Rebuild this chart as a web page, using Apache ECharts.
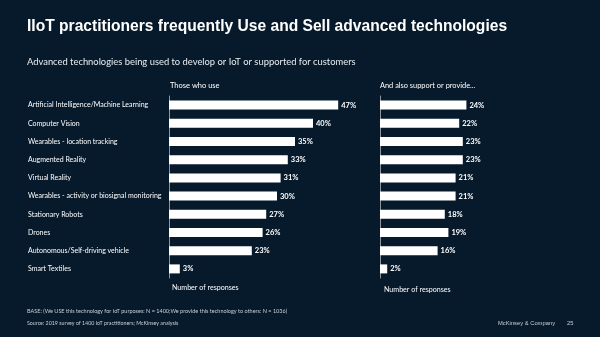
<!DOCTYPE html>
<html>
<head>
<meta charset="utf-8">
<script src="https://cdn.jsdelivr.net/npm/echarts@6/dist/echarts.min.js"></script>
<style>
  html, body { margin: 0; padding: 0; background: #061a2c; }
  #chart1 { width: 600px; height: 337px; }
</style>
</head>
<body>
<div id="chart1"></div>
<script>
// technologies, top to bottom
var categories = [
    'Artificial Intelligence/Machine Learning',
    'Computer Vision',
    'Wearables - location tracking',
    'Augmented Reality',
    'Virtual Reality',
    'Wearables - activity or biosignal monitoring',
    'Stationary Robots',
    'Drones',
    'Autonomous/Self-driving vehicle',
    'Smart Textiles'
];
// % of respondents using the technology
var useShare = [47, 40, 35, 33, 31, 30, 27, 26, 23, 3];
// % who also support or provide it to customers
var provideShare = [24, 22, 23, 23, 21, 21, 18, 19, 16, 2];

var bodyFont = 'Lato';
var axisColor = '#8b95a0';

function barSeries(idx, values) {
    return {
        type: 'bar',
        xAxisIndex: idx,
        yAxisIndex: idx,
        data: values,
        barWidth: 9,
        itemStyle: { color: '#ffffff' },
        label: {
            show: true,
            position: 'right',
            distance: 3,
            formatter: '{c}%',
            color: '#ffffff',
            fontFamily: bodyFont,
            fontWeight: 'bold',
            fontSize: 7.5
        },
        silent: true
    };
}

function txt(x, y, text, size, color, extra) {
    var style = {
        text: text,
        fill: color,
        font: (extra && extra.weight ? extra.weight + ' ' : '') + size + 'px ' + (extra && extra.family ? extra.family : bodyFont),
        textVerticalAlign: 'middle'
    };
    return { type: 'text', x: x, y: y, style: style, silent: true };
}

var chart = echarts.init(document.getElementById('chart1'));
chart.setOption({
    backgroundColor: '#061a2c',
    animation: false,
    grid: [
        { left: 169, top: 96, width: 180, height: 182 },
        { left: 380, top: 96, width: 180, height: 182 }
    ],
    xAxis: [
        { type: 'value', gridIndex: 0, min: 0, max: 50, show: false },
        { type: 'value', gridIndex: 1, min: 0, max: 50, show: false }
    ],
    yAxis: [
        {
            type: 'category', gridIndex: 0, inverse: true, data: categories,
            axisLine: { lineStyle: { color: axisColor, width: 1 } },
            axisTick: { show: false },
            axisLabel: {
                align: 'left', margin: 141, color: '#ffffff',
                fontFamily: bodyFont, fontSize: 7,
                width: 160, overflow: 'none'
            }
        },
        {
            type: 'category', gridIndex: 1, inverse: true, data: categories,
            axisLine: { lineStyle: { color: axisColor, width: 1 } },
            axisTick: { show: false },
            axisLabel: { show: false }
        }
    ],
    series: [
        barSeries(0, useShare),
        barSeries(1, provideShare)
    ],
    graphic: [
        txt(27, 27, 'IIoT practitioners frequently Use and Sell advanced technologies', 15.6, '#ffffff',
            { weight: 'bold', family: '"Liberation Sans", Arial' }),
        txt(27, 61.5, 'Advanced technologies being used to develop or IoT or supported for customers', 9.4, '#e8ecef'),
        txt(170, 86, 'Those who use', 7.5, '#ffffff'),
        txt(380, 86, 'And also support or provide...', 7.4, '#ffffff'),
        txt(172, 287.5, 'Number of responses', 7.1, '#ffffff'),
        txt(384, 290, 'Number of responses', 7.1, '#ffffff'),
        txt(27, 311, 'BASE: (We USE this technology for IoT purposes: N = 1400;We provide this technology to others: N = 1036)', 5.5, '#c9ced4'),
        txt(27, 323.5, 'Source: 2019 survey of 1400 IoT practitioners; McKinsey analysis', 5.3, '#c9ced4'),
        txt(498, 323.5, 'McKinsey & Company', 5.8, '#c9ced4', { family: '"Liberation Sans", Arial' }),
        txt(567, 323.5, '25', 5.8, '#c9ced4', { family: '"Liberation Sans", Arial' })
    ]
});
</script>
</body>
</html>
